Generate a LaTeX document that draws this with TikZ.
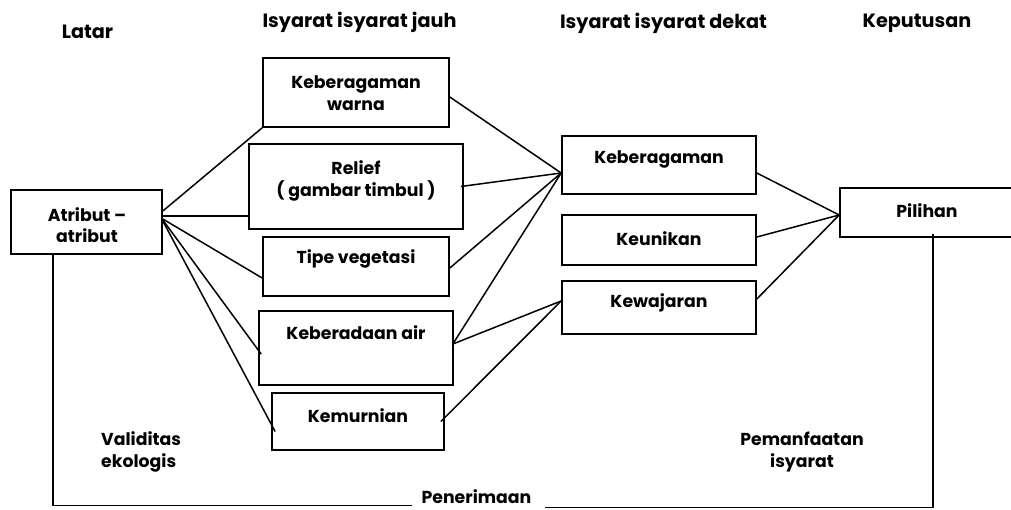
\documentclass[tikz,border=0pt]{standalone}
\usepackage{fontspec}
\setmainfont{Poppins}
\begin{document}
\begin{tikzpicture}[x=1pt,y=-1pt,
  box/.style={draw,line width=1.7pt,minimum width=#1,inner sep=0pt},
  lbl/.style={font=\fontsize{17.3}{21.5}\selectfont\bfseries,inner sep=0pt,align=center},
  head/.style={lbl,font=\fontsize{19.2}{23}\selectfont\bfseries,anchor=base},
  conn/.style={line width=1.5pt},
  every node/.append style={text=black}]
\useasboundingbox (0,0) rectangle (1011,509);
% boxes
\node[box=151pt,minimum height=64pt] (atr) at (86.5,222) {};
\node[box=186pt,minimum height=69pt] (kw) at (356,92.5) {};
\node[box=214pt,minimum height=85pt] (rel) at (356,186.5) {};
\node[box=186pt,minimum height=59pt] (tv) at (356,266.5) {};
\node[box=194pt,minimum height=74pt] (ka) at (356,348) {};
\node[box=172pt,minimum height=57pt] (km) at (358,421.5) {};
\node[box=194pt,minimum height=58pt] (kb) at (659,165) {};
\node[box=194pt,minimum height=50pt] (ku) at (659,240) {};
\node[box=194pt,minimum height=53pt] (kj) at (659,307.5) {};
\node[box=185pt,minimum height=49pt] (pil) at (932.5,212.5) {};
% box texts
\node[lbl] (tatr) at (87,225) {Atribut --\\atribut};
\node[lbl] (tkw) at (356,93) {Keberagaman\\warna};
\node[lbl] (trel) at (356,181) {Relief\\( gambar timbul )};
\node[lbl] (ttv) at (356,259) {Tipe vegetasi};
\node[lbl] (tka) at (356,333) {Keberadaan air};
\node[lbl] (tkm) at (358,416) {Kemurnian};
\node[lbl] (tkb) at (659,159) {Keberagaman};
\node[lbl] (tku) at (659,239) {Keunikan};
\node[lbl] (tkj) at (659,303) {Kewajaran};
\node[lbl] (tpil) at (927,211) {Pilihan};
% titles
\node[head] (h1) at (87.5,38) {Latar};
\node[head] (h2) at (359.5,27.5) {Isyarat isyarat jauh};
\node[head] (h3) at (663.5,28) {Isyarat isyarat dekat};
\node[head] (h4) at (917,27) {Keputusan};
\node[lbl,align=left,anchor=west] (val) at (101,452) {Validitas\\ekologis};
\node[lbl] (pem) at (802,452) {Pemanfaatan\\isyarat};
\node[lbl,anchor=base] (pen) at (476.5,503) {Penerimaan};
% junction points
\coordinate (kbin) at ([yshift=-8pt]kb.west);
\coordinate (kjin) at ([yshift=6.5pt]kj.west);
\coordinate (pilin) at ([yshift=-2.5pt]pil.west);
% Atribut to far cues
\draw[conn] ([yshift=11pt]atr.east) -- (kw.south west);
\draw[conn] ([yshift=6pt]atr.east) -- ([yshift=6pt]atr.east -| rel.west);
\draw[conn] ([yshift=3pt]atr.east) -- ([yshift=-11.5pt]tv.west);
\draw[conn] ([yshift=2pt]atr.east) -- ([shift={(3pt,-6pt)}]ka.west);
\draw[conn] ([yshift=1pt]atr.east) -- ([shift={(4pt,-10pt)}]km.west);
% far to near
\draw[conn] ([yshift=-4.5pt]kw.east) -- (kbin);
\draw[conn] ([xshift=-3pt]rel.east) -- (kbin);
\draw[conn] ([yshift=-1.5pt]tv.east) -- (kbin);
\draw[conn] ([shift={(-1pt,4pt)}]ka.east) -- (kbin);
\draw[conn] ([shift={(-1pt,4pt)}]ka.east) -- (kjin);
\draw[conn] ([xshift=-4pt]km.east) -- (kjin);
% near to decision
\draw[conn] ([yshift=-8pt]kb.east) -- (pilin);
\draw[conn] ([yshift=3pt]ku.east) -- (pilin);
\draw[conn] ([yshift=8.5pt]kj.east) -- (pilin);
% feedback
\coordinate (pr) at (933,507.5);
\coordinate (pl) at (53,505.5);
\draw[conn] ([shift={(0.5pt,4pt)}]pil.south) -- (pr) -- (545,507.5);
\draw[conn] (atr.south -| pl) -- (pl) -- (412,505.5);
\end{tikzpicture}
\end{document}
